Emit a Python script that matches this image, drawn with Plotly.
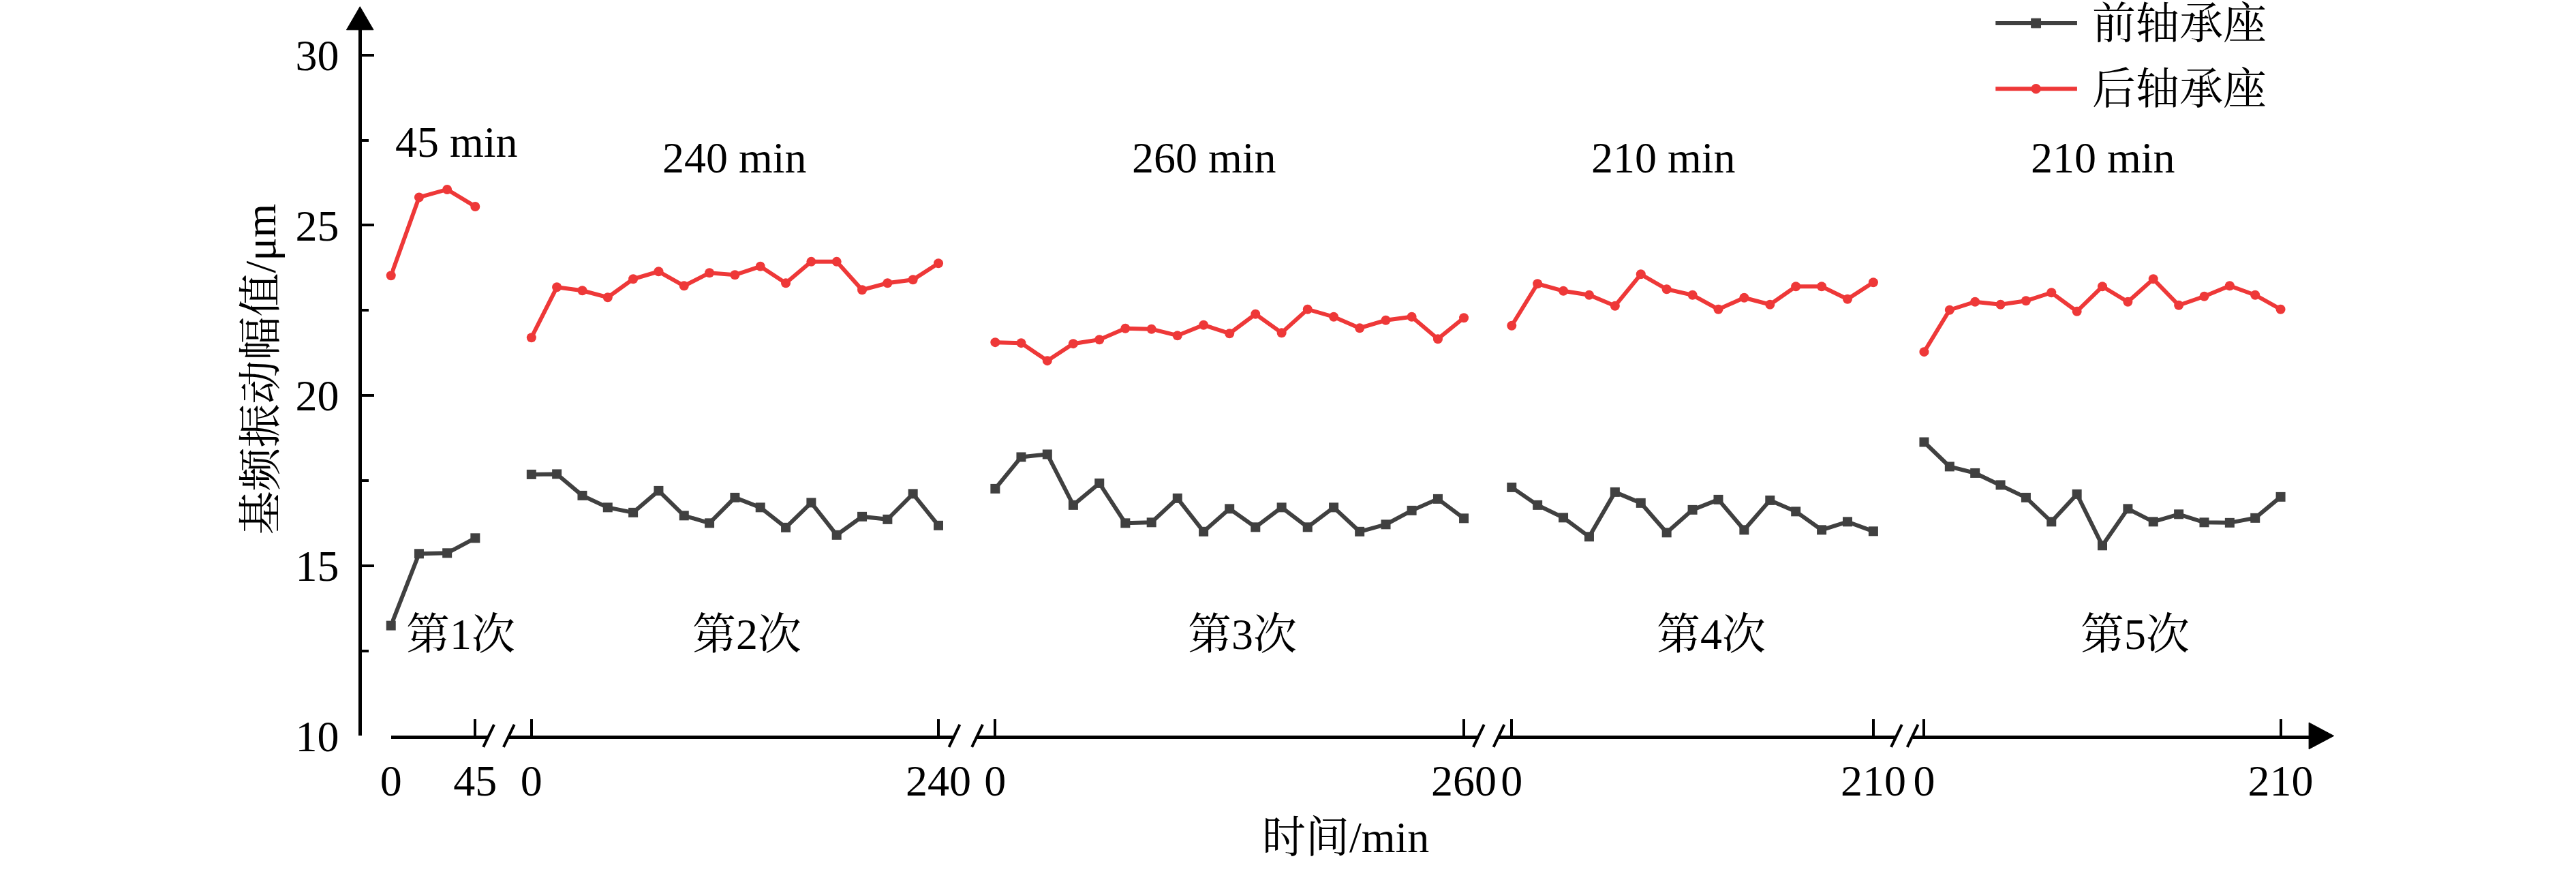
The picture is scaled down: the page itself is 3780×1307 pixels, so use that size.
import plotly.graph_objs as go

# measurement times (min) for the five runs
t1 = [0, 15, 30, 45]
t2 = [0, 15, 30, 45, 60, 75, 90, 105, 120, 135, 150, 165, 180, 195, 210, 225, 240]
t3 = [0, 14.4, 28.9, 43.3, 57.8, 72.2, 86.7, 101.1, 115.6, 130, 144.4, 158.9,
      173.3, 187.8, 202.2, 216.7, 231.1, 245.6, 260]
t4 = [0, 15, 30, 45, 60, 75, 90, 105, 120, 135, 150, 165, 180, 195, 210]
t5 = [0, 15, 30, 45, 60, 75, 90, 105, 120, 135, 150, 165, 180, 195, 210]

# front bearing (前轴承座)
f1 = [13.24, 15.35, 15.37, 15.81]
f2 = [17.68, 17.69, 17.06, 16.71, 16.56, 17.20, 16.47, 16.25, 17.00, 16.71, 16.12,
      16.85, 15.90, 16.44, 16.36, 17.11, 16.18]
f3 = [17.26, 18.19, 18.27, 16.78, 17.42, 16.25, 16.27, 16.98, 16.00, 16.67, 16.13,
      16.71, 16.13, 16.71, 16.00, 16.21, 16.62, 16.96, 16.39]
f4 = [17.30, 16.78, 16.41, 15.85, 17.16, 16.84, 15.97, 16.64, 16.94, 16.05, 16.92,
      16.59, 16.05, 16.29, 16.01]
f5 = [18.63, 17.91, 17.72, 17.37, 17.00, 16.29, 17.10, 15.59, 16.67, 16.29, 16.51,
      16.27, 16.26, 16.40, 17.02]

# rear bearing (后轴承座)
r1 = [23.52, 25.82, 26.05, 25.55]
r2 = [21.70, 23.18, 23.08, 22.88, 23.42, 23.64, 23.22, 23.60, 23.54, 23.79, 23.30,
      23.93, 23.93, 23.10, 23.30, 23.40, 23.88]
r3 = [21.56, 21.54, 21.02, 21.52, 21.64, 21.97, 21.95, 21.76, 22.07, 21.82, 22.39,
      21.84, 22.53, 22.31, 21.98, 22.21, 22.31, 21.66, 22.28]
r4 = [22.05, 23.28, 23.07, 22.95, 22.63, 23.56, 23.12, 22.95, 22.53, 22.87, 22.67,
      23.20, 23.20, 22.83, 23.32]
r5 = [21.28, 22.51, 22.75, 22.67, 22.78, 23.02, 22.47, 23.20, 22.75, 23.42, 22.65,
      22.91, 23.22, 22.95, 22.53]

durations = [45, 240, 260, 210, 210]
run_labels = ['第1次', '第2次', '第3次', '第4次', '第5次']
dur_labels = ['45 min', '240 min', '260 min', '210 min', '210 min']
y_ticks = [10, 15, 20, 25, 30]

W, H = 3780, 1307
FONT = 'Liberation Serif, Noto Serif CJK SC, Noto Sans CJK SC, serif'
BLACK = '#404040'
RED = '#ee3838'


def px(x):
    return x / W


def py(y):
    return 1 - y / H


# pixel layout of each broken x segment: line start/end, tick at 0, tick at end
seg_px = [
    (564, 709, 564, 689),
    (739, 1400, 772.4, 1376.3),
    (1434, 2178, 1460.6, 2156),
    (2208, 2798, 2227, 2763.6),
    (2822, 3411, 2839, 3368),
]
y_bottom, y_top_px = 1110, 43
y_unit = (1110 - 83) / 20.0
y_max = 30 + (83 - y_top_px) / y_unit
yaxis_x = 518

times = [t1, t2, t3, t4, t5]
front = [f1, f2, f3, f4, f5]
rear = [r1, r2, r3, r4, r5]

data = []
for i in range(5):
    xa = 'x' if i == 0 else 'x%d' % (i + 1)
    data.append(go.Scatter(
        x=times[i], y=front[i], xaxis=xa, yaxis='y', mode='lines+markers',
        name='前轴承座', showlegend=False, cliponaxis=False,
        line=dict(color=BLACK, width=6),
        marker=dict(symbol='square', size=14, color=BLACK)
    ))
    data.append(go.Scatter(
        x=times[i], y=rear[i], xaxis=xa, yaxis='y', mode='lines+markers',
        name='后轴承座', showlegend=False, cliponaxis=False,
        line=dict(color=RED, width=6),
        marker=dict(symbol='circle', size=14, color=RED)
    ))

layout = dict(
    width=W, height=H,
    margin=dict(l=0, r=0, t=0, b=0),
    paper_bgcolor='white', plot_bgcolor='white',
    font=dict(family=FONT, size=64, color='black'),
    showlegend=False,
    yaxis=dict(
        domain=[py(y_bottom), py(y_top_px)],
        range=[10, y_max],
        anchor='free', position=px(yaxis_x),
        tickvals=y_ticks, ticks='inside', ticklen=18, tickwidth=3.5,
        tickcolor='black', ticklabelstandoff=16,
        minor=dict(ticks='inside', ticklen=10, tickwidth=3.5,
                   tickcolor='black', dtick=2.5, tick0=10),
        showline=True, linewidth=5, linecolor='black',
        showgrid=False, zeroline=False,
        tickfont=dict(family=FONT, size=64)
    ),
)

shapes = []
annotations = []
for i in range(5):
    a, b, p0, p1 = seg_px[i]
    k = (p1 - p0) / durations[i]
    key = 'xaxis' if i == 0 else 'xaxis%d' % (i + 1)
    layout[key] = dict(
        domain=[px(a), px(b)],
        range=[(a - p0) / k, (b - p0) / k],
        anchor='y',
        tickvals=[0, durations[i]], ticks='inside', ticklen=24, tickwidth=3.5,
        tickcolor='black', ticklabelstandoff=6,
        showline=True, linewidth=5, linecolor='black',
        showgrid=False, zeroline=False,
        tickfont=dict(family=FONT, size=64)
    )

# axis break marks
for c in [709, 739, 1400, 1434, 2178, 2208, 2798, 2822]:
    shapes.append(dict(type='line', xref='paper', yref='paper',
                       x0=px(c - 8), y0=py(1127), x1=px(c + 8), y1=py(1093),
                       line=dict(color='black', width=4)))

# axis arrows
shapes.append(dict(type='path', xref='paper', yref='paper',
                   path='M %f %f L %f %f L %f %f Z' % (
                       px(yaxis_x), py(10), px(yaxis_x - 20), py(45),
                       px(yaxis_x + 20), py(45)),
                   fillcolor='black', line=dict(color='black', width=1)))
shapes.append(dict(type='path', xref='paper', yref='paper',
                   path='M %f %f L %f %f L %f %f Z' % (
                       px(3447), py(y_bottom), px(3410), py(y_bottom - 20),
                       px(3410), py(y_bottom + 20)),
                   fillcolor='black', line=dict(color='black', width=1)))

# legend drawn by hand
legend_rows = [('前轴承座', BLACK, 'square', 35), ('后轴承座', RED, 'circle', 134)]
for name, col, sym, yy in legend_rows:
    shapes.append(dict(type='line', xref='paper', yref='paper',
                       x0=px(2945), y0=py(yy), x1=px(3066), y1=py(yy),
                       line=dict(color=col, width=6)))
    shapes.append(dict(type='rect' if sym == 'square' else 'circle',
                       xref='paper', yref='paper',
                       x0=px(2998), y0=py(yy - 7), x1=px(3012), y1=py(yy + 7),
                       fillcolor=col, line=dict(color=col, width=1)))
    annotations.append(dict(text=name, xref='paper', yref='paper',
                            x=px(3086), y=py(yy), xanchor='left', yanchor='middle',
                            showarrow=False, font=dict(family=FONT, size=64)))

dur_pos = [(661, 214), (1074, 238), (1771, 238), (2452, 238), (3104, 238)]
run_pos = [(667, 957), (1092, 957), (1827, 957), (2523, 957), (3152, 957)]
for i in range(5):
    annotations.append(dict(text=dur_labels[i], xref='paper', yref='paper',
                            x=px(dur_pos[i][0]), y=py(dur_pos[i][1]),
                            xanchor='center', yanchor='middle', showarrow=False,
                            font=dict(family=FONT, size=64)))
    annotations.append(dict(text=run_labels[i], xref='paper', yref='paper',
                            x=px(run_pos[i][0]), y=py(run_pos[i][1]),
                            xanchor='center', yanchor='middle', showarrow=False,
                            font=dict(family=FONT, size=64)))

annotations.append(dict(text='时间/min', xref='paper', yref='paper',
                        x=px(1980), y=py(1263), xanchor='center', yanchor='middle',
                        showarrow=False, font=dict(family=FONT, size=64)))
annotations.append(dict(text='基频振动幅值/μm', xref='paper', yref='paper',
                        x=px(371), y=py(557), xanchor='center', yanchor='middle',
                        textangle=-90, showarrow=False,
                        font=dict(family=FONT, size=64)))

layout['shapes'] = shapes
layout['annotations'] = annotations

fig = go.Figure(data=data, layout=go.Layout(layout))
fig.write_html('out.html', config={'displayModeBar': False},
               post_script="document.body.style.margin='0px';")
